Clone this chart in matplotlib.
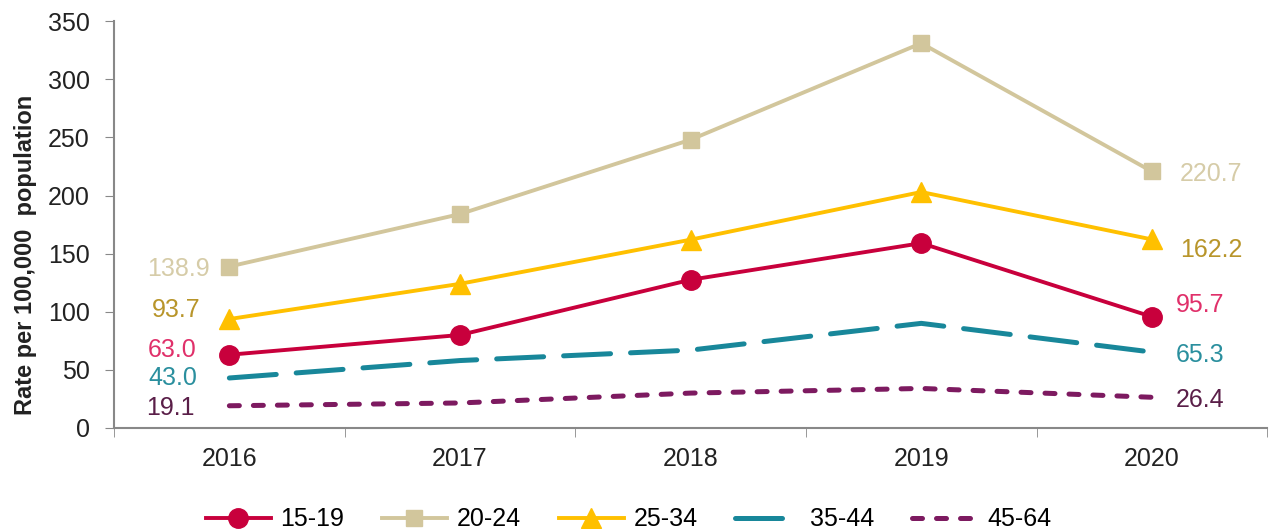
import matplotlib.pyplot as plt
import numpy as np

plt.rcParams['font.family'] = ['Liberation Sans', 'DejaVu Sans']

years = ['2016', '2017', '2018', '2019', '2020']
age_15_19 = [63.0, 80.0, 127.5, 159.0, 95.7]
age_20_24 = [138.9, 184.0, 248.0, 331.0, 220.7]
age_25_34 = [93.7, 124.0, 162.0, 203.0, 162.2]
age_35_44 = [43.0, 58.0, 67.0, 90.0, 65.3]
age_45_64 = [19.1, 21.5, 30.0, 34.0, 26.4]

x = np.arange(len(years))

fig = plt.figure(figsize=(12.7, 5.29), dpi=100)
ax = fig.add_axes([0.0898, 0.191, 0.908, 0.769])

ax.plot(x, age_15_19, color='#C8003C', lw=2.8, marker='o', ms=14, label='15-19', zorder=5)
ax.plot(x, age_20_24, color='#D2C69C', lw=2.8, marker='s', ms=12, label='20-24', zorder=4)
ax.plot(x, age_25_34, color='#FFC000', lw=2.8, marker='^', ms=14, label='25-34', zorder=4)
ax.plot(x, age_35_44, color='#18879A', lw=3.6, dashes=(9.4, 4), dash_capstyle='round',
        label='35-44', zorder=3)
ax.plot(x, age_45_64, color='#7D1A60', lw=3.6, dashes=(2, 2.8), dash_capstyle='round',
        label='45-64', zorder=3)

# end labels: (series, color, left offset, right offset) in points
labels = [
    (age_20_24, '#D6CCA8', (-14, 0), (20, 0)),
    (age_25_34, '#B8952A', (-21, 8), (20, -6)),
    (age_15_19, '#E0306A', (-24, 5), (17, 10)),
    (age_35_44, '#2A8F9E', (-23, 2), (17, 0)),
    (age_45_64, '#5A1E48', (-25, 0), (17, 0)),
]
for vals, col, lo, ro in labels:
    ax.annotate(f'{vals[0]:.1f}', (x[0], vals[0]), xytext=lo, textcoords='offset points',
                ha='right', va='center_baseline', color=col, fontsize=18)
    ax.annotate(f'{vals[-1]:.1f}', (x[-1], vals[-1]), xytext=ro, textcoords='offset points',
                ha='left', va='center_baseline', color=col, fontsize=18)

ax.set_xlim(-0.5, 4.5)
ax.set_ylim(0, 350)
ax.set_yticks(range(0, 351, 50))
ax.set_xticks(x)
ax.set_xticklabels(years)
ax.set_xticks(np.arange(-0.5, 4.6, 1), minor=True)
ax.tick_params(axis='x', which='major', length=0, pad=14, labelsize=18, labelcolor='#222222')
ax.tick_params(axis='x', which='minor', length=6.5, color='#888888', direction='out')
ax.tick_params(axis='y', length=6.5, color='#888888', labelsize=18, pad=11, labelcolor='#222222')
for s in ['top', 'right']:
    ax.spines[s].set_visible(False)
for s in ['left', 'bottom']:
    ax.spines[s].set_color('#888888')
    ax.spines[s].set_linewidth(1.5)

fig.text(0.02, 0.518, 'Rate per 100,000  population', rotation=90, ha='center', va='center',
         fontsize=17, fontweight='bold', color='#222222')

ax.legend(loc='center', bbox_to_anchor=(0.446, -0.225), ncol=5, frameon=False,
          fontsize=18, handlelength=2.6, columnspacing=1.5, handletextpad=0.4)

fig.savefig('out.png', dpi=100)
